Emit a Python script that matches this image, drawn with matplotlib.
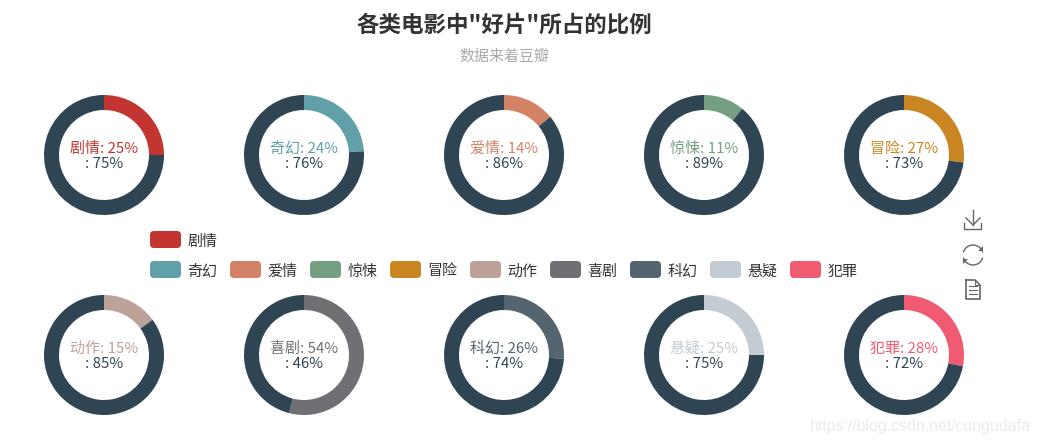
import matplotlib
matplotlib.use('Agg')
import matplotlib.pyplot as plt
from matplotlib.patches import FancyBboxPatch, Arc, Polygon

plt.rcParams['font.family'] = ['Noto Sans CJK SC', 'DejaVu Sans']

# data
genres = ['剧情', '奇幻', '爱情', '惊悚', '冒险', '动作', '喜剧', '科幻', '悬疑', '犯罪']
good = [25, 24, 14, 11, 27, 15, 54, 26, 25, 28]
rest = [75, 76, 86, 89, 73, 85, 46, 74, 75, 72]
colors = ['#c23531', '#61a0a8', '#d48265', '#749f83', '#ca8622',
          '#bda29a', '#6e7074', '#546570', '#c4ccd3', '#f05b72']
dark = '#2f4554'

W, H = 1038, 444


def Y(y):
    # pixel from the top -> axes coordinate
    return H - y


fig = plt.figure(figsize=(W / 100, H / 100), dpi=100)
ax = fig.add_axes([0, 0, 1, 1])

for i in range(10):
    cx = 104 + 200 * (i % 5)
    cy = 155 if i < 5 else 355
    ax.pie([good[i], rest[i]], colors=[colors[i], dark], center=(cx, Y(cy)), radius=60,
           startangle=90, counterclock=False, wedgeprops={'width': 15, 'linewidth': 0})
    ax.text(cx, Y(cy - 6.5), genres[i] + ': ' + str(good[i]) + '%', color=colors[i], fontsize=10.8,
            ha='center', va='center')
    ax.text(cx, Y(cy + 9), ': ' + str(rest[i]) + '%', color=dark, fontsize=10.8,
            ha='center', va='center')

ax.set_xlim(0, W)
ax.set_ylim(0, H)
ax.set_aspect('equal')
ax.axis('off')

# title
ax.text(504, Y(25), '各类电影中"好片"所占的比例', color='#333333', fontsize=16.2, fontweight='bold',
        ha='center', va='center')
ax.text(504, Y(56.5), '数据来着豆瓣', color='#aaaaaa', fontsize=10.8, ha='center', va='center')


# legend
def legend_item(x, y, name, color):
    ax.add_patch(FancyBboxPatch((x, Y(y + 17)), 31, 17, boxstyle='round,pad=0,rounding_size=4',
                                fc=color, ec='none', lw=0))
    ax.text(x + 37.5, Y(y + 10.5), name, color='#333333', fontsize=10.8, ha='left', va='center')


legend_item(150, 231, genres[0], colors[0])
for i in range(1, 10):
    legend_item(150 + 80 * (i - 1), 261, genres[i], colors[i])

# toolbox icons
icon = '#666666'
lw = 1.0
ax.plot([964, 964, 981, 981], [Y(223), Y(229), Y(229), Y(223)], color=icon, lw=lw)
ax.plot([973, 973], [Y(210), Y(225)], color=icon, lw=lw)
ax.plot([966, 973, 980], [Y(218), Y(225), Y(218)], color=icon, lw=lw)

ax.add_patch(Arc((973, Y(255)), 20, 20, theta1=15, theta2=165, color=icon, lw=lw))
ax.add_patch(Arc((973, Y(255)), 20, 20, theta1=195, theta2=345, color=icon, lw=lw))
ax.add_patch(Polygon([(978, Y(251)), (983, Y(251)), (983, Y(246))], color=icon, lw=0))
ax.add_patch(Polygon([(968, Y(259)), (963, Y(259)), (963, Y(264))], color=icon, lw=0))

ax.plot([966, 975, 980, 980, 966, 966], [Y(280), Y(280), Y(285), Y(299), Y(299), Y(280)], color=icon, lw=lw + 0.2)
ax.plot([975, 975, 980], [Y(280), Y(285), Y(285)], color=icon, lw=lw * 0.7)
for ly in [286, 290, 294]:
    ax.plot([969, 977], [Y(ly), Y(ly)], color=icon, lw=lw * 0.8)

# watermark
ax.text(1031, Y(426), 'https://blog.csdn.net/cungudafa', color='#ebebeb', fontsize=11.4,
        family=['Liberation Sans'], ha='right', va='center')

fig.savefig('out.png', dpi=100)
